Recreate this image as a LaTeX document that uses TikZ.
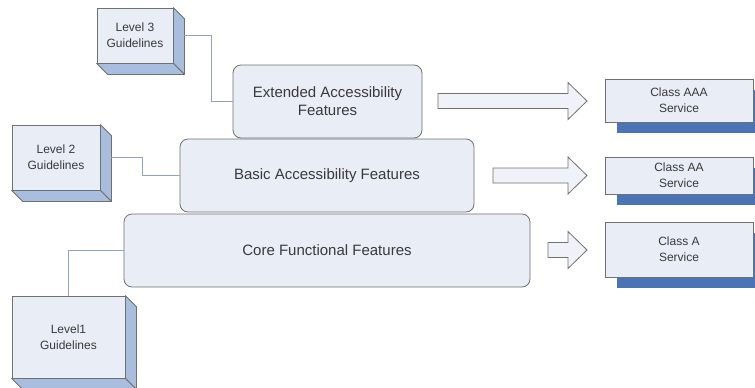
\documentclass[tikz,border=0pt]{standalone}
\usepackage{fontspec}
\setmainfont{Liberation Sans}
\usetikzlibrary{calc,shadows}
\definecolor{boxfill}{HTML}{E8EDF6}
\definecolor{sideface}{HTML}{A9BDDF}
\definecolor{shadowblue}{HTML}{4A74B6}
\definecolor{edgegray}{HTML}{707070}
\definecolor{linkgray}{HTML}{8EA3BC}
\definecolor{textgray}{HTML}{3A3A3A}
\newcommand{\bigarrow}[2]{%
  \draw[blockarrow] (#1,#2-7.5) -- (568,#2-7.5) -- (568,#2-18.5) -- (587,#2)
    -- (568,#2+18.5) -- (568,#2+7.5) -- (#1,#2+7.5) -- cycle;}
\newcommand{\cubesides}[1]{%
  \filldraw[cubeside] (#1.north east) -- ++(11,11) -- ($(#1.south east)+(11,11)$) -- (#1.south east) -- cycle;
  \filldraw[cubeside] (#1.south west) -- ++(11,11) -- ($(#1.south east)+(11,11)$) -- (#1.south east) -- cycle;}
\begin{document}
\begin{tikzpicture}[x=1pt,y=-1pt,
  feature/.style={draw=edgegray, fill=boxfill, rounded corners=8pt, line width=0.8pt,
    align=center, font=\fontsize{15}{18}\selectfont, inner sep=0pt, text=textgray},
  cubefront/.style={draw=edgegray, fill=boxfill, line width=0.8pt, align=center,
    font=\fontsize{12}{16}\selectfont, inner sep=0pt, text=textgray},
  cubeside/.style={draw=edgegray, fill=sideface, line width=0.8pt, line join=round},
  classbox/.style={draw=edgegray, fill=boxfill, line width=0.8pt, align=center,
    font=\fontsize{12}{16}\selectfont, inner sep=0pt, minimum width=148, text=textgray,
    general shadow={fill=shadowblue, shadow xshift=12pt, shadow yshift=-11pt}},
  link/.style={draw=linkgray, line width=0.8pt},
  blockarrow/.style={draw=edgegray, fill=boxfill!70!white, line width=0.8pt, line join=miter}
]
\useasboundingbox (0,0) rectangle (755,388);
% feature boxes
\node[feature, minimum width=189, minimum height=73] (ext) at (327.5,101.5) {Extended Accessibility\\Features};
\node[feature, minimum width=294, minimum height=73] (basic) at (327,175.5) {Basic Accessibility Features};
\node[feature, minimum width=406, minimum height=73] (core) at (327,250.5) {Core Functional Features};
% guideline cubes
\node[cubefront, minimum width=76, minimum height=55] (lvl3) at (135,35.5) {Level 3\\Guidelines};
\cubesides{lvl3}
\node[cubefront, minimum width=88, minimum height=65] (lvl2) at (56,157.5) {Level 2\\Guidelines};
\cubesides{lvl2}
\node[cubefront, minimum width=113, minimum height=82] (lvl1) at (68.5,337) {Level1\\Guidelines};
\cubesides{lvl1}
% links
\coordinate (l3s) at ($(lvl3.east)+(11,0)$);
\coordinate (l2s) at ($(lvl2.east)+(11,0)$);
\draw[link] (l3s) -| ($(ext.west)+(-21,0)$) -- (ext.west);
\draw[link] (l2s) -| ($(basic.west)+(-37,0)$) -- (basic.west);
\draw[link] (core.west) -| (lvl1.north);
% class boxes
\node[classbox, minimum height=43] (caaa) at (679,100.5) {Class AAA\\Service};
\node[classbox, minimum height=37] (caa) at (679,175.5) {Class AA\\Service};
\node[classbox, minimum height=55] (ca) at (679,249.5) {Class A\\Service};
% block arrows
\bigarrow{438}{101}
\bigarrow{493}{175.5}
\bigarrow{548}{250}
\end{tikzpicture}
\end{document}
